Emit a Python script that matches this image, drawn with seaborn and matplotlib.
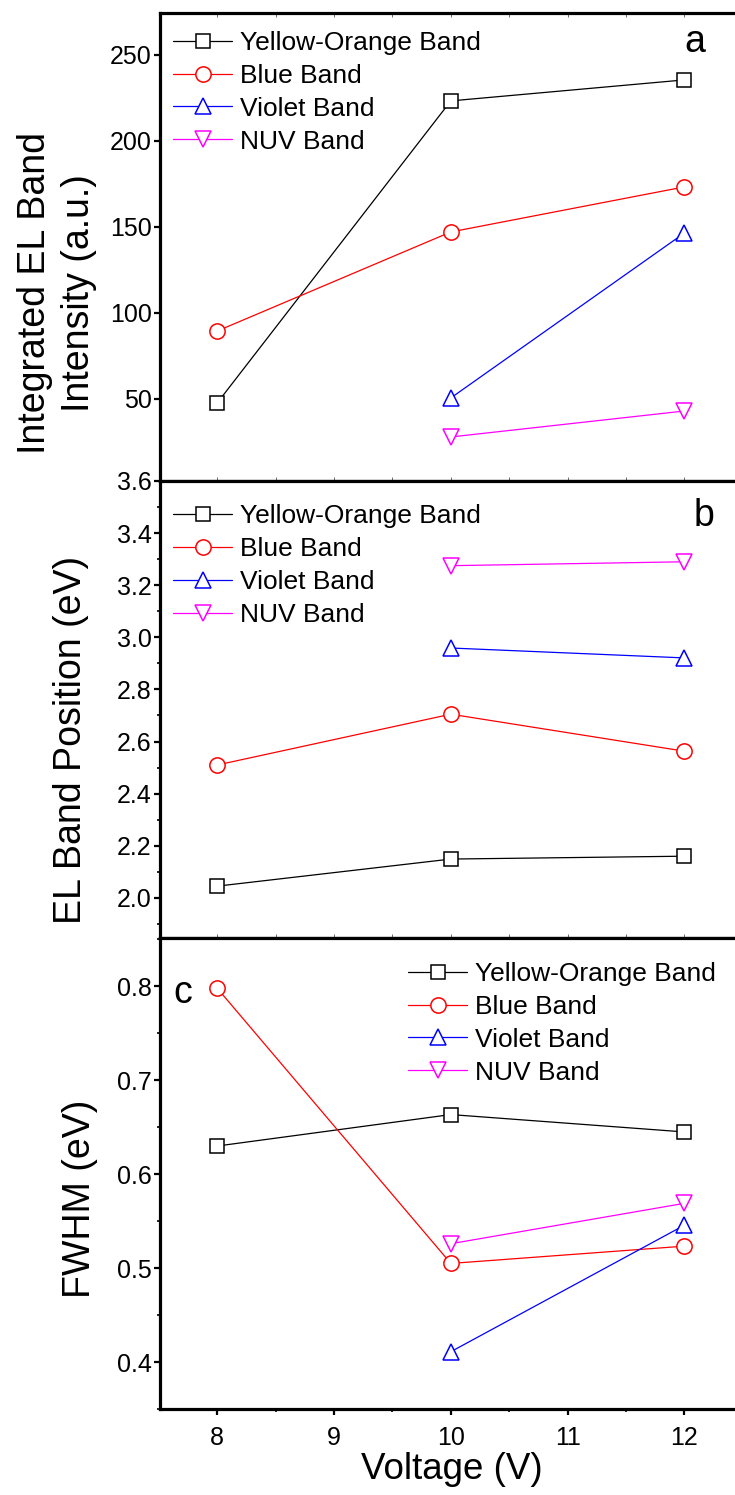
import numpy as np
import pandas as pd
import matplotlib
matplotlib.use("Agg")
import matplotlib.pyplot as plt
import seaborn as sns
from matplotlib.ticker import MultipleLocator, FormatStrFormatter

sns.set_theme(style="ticks")
plt.rcParams['font.family'] = ['Liberation Sans', 'DejaVu Sans']

# ---- data ----
voltage_all = [8, 10, 12]
voltage_hi = [10, 12]
series_names = ["Yellow-Orange Band", "Blue Band", "Violet Band", "NUV Band"]

# (a) integrated intensity (a.u.)
int_yellow = [47.7, 223.3, 235.5]
int_blue = [89.5, 147.1, 173.3]
int_violet = [50.6, 146.5]
int_nuv = [27.9, 43.0]

# (b) band position (eV)
pos_yellow = [2.045, 2.149, 2.160]
pos_blue = [2.510, 2.705, 2.563]
pos_violet = [2.959, 2.921]
pos_nuv = [3.275, 3.290]

# (c) FWHM (eV)
fw_yellow = [0.630, 0.6635, 0.645]
fw_blue = [0.798, 0.505, 0.5234]
fw_violet = [0.411, 0.5457]
fw_nuv = [0.526, 0.569]

colors = ["black", "#FF0000", "#0000FF", "#FF00FF"]
markers = ["s", "o", "^", "v"]
msizes = [9.5, 11, 11.5, 11.5]

W, H = 735, 1495
fig = plt.figure(figsize=(W / 100, H / 100), dpi=100)

def px_axes(top, bottom, left=160, right=744):
    return fig.add_axes([left / W, 1 - bottom / H, (right - left) / W, (bottom - top) / H])

ax_a = px_axes(13, 481)
ax_b = px_axes(481, 938)
ax_c = px_axes(938, 1409)

panels = [
    (ax_a, [int_yellow, int_blue, int_violet, int_nuv]),
    (ax_b, [pos_yellow, pos_blue, pos_violet, pos_nuv]),
    (ax_c, [fw_yellow, fw_blue, fw_violet, fw_nuv]),
]

for ax, ys in panels:
    for name, y, c, m, ms in zip(series_names, ys, colors, markers, msizes):
        x = voltage_all if len(y) == 3 else voltage_hi
        sns.lineplot(x=x, y=y, ax=ax, color=c, marker=m, markersize=ms,
                     markerfacecolor="white", markeredgecolor=c,
                     markeredgewidth=1.1, linewidth=0.9, label=name,
                     errorbar=None, sort=False)
    ax.set_xlim(7.51, 12.51)
    ax.set_facecolor("white")
    for s in ["left", "bottom", "top"]:
        ax.spines[s].set_linewidth(2.3)
        ax.spines[s].set_color("black")
    ax.spines["right"].set_visible(False)
    ax.xaxis.set_major_locator(MultipleLocator(1))
    ax.xaxis.set_minor_locator(MultipleLocator(0.5))
    ax.tick_params(axis="y", which="major", direction="out", length=4, width=1.6,
                   labelsize=18, color="black", labelcolor="black", pad=2)
    ax.tick_params(axis="y", which="minor", direction="out", length=2.5, width=1.2,
                   color="black")
    ax.set_xlabel("")

ax_a.set_ylim(2.3, 274.4)
ax_a.yaxis.set_major_locator(MultipleLocator(50))
ax_a.yaxis.set_minor_locator(matplotlib.ticker.NullLocator())
ax_b.set_ylim(1.846, 3.6)
ax_b.set_yticks([2.0, 2.2, 2.4, 2.6, 2.8, 3.0, 3.2, 3.4, 3.6])
ax_b.yaxis.set_minor_locator(MultipleLocator(0.1))
ax_b.yaxis.set_major_formatter(FormatStrFormatter("%.1f"))
ax_c.set_ylim(0.35, 0.8515)
ax_c.yaxis.set_major_locator(MultipleLocator(0.1))
ax_c.yaxis.set_minor_locator(MultipleLocator(0.05))
ax_c.yaxis.set_major_formatter(FormatStrFormatter("%.1f"))

# x ticks
for ax in (ax_a, ax_b):
    ax.tick_params(axis="x", which="both", bottom=True, top=False, labelbottom=False,
                   direction="in", length=3, width=0.6, color="#555555")
ax_a.tick_params(axis="x", which="both", top=True, direction="in", length=3,
                 width=0.6, color="#555555")
ax_c.tick_params(axis="x", which="major", direction="out", length=4, width=1.6,
                 labelsize=18, color="black", labelcolor="black", pad=8.5)
ax_c.tick_params(axis="x", which="minor", direction="out", length=2.5, width=1.2,
                 color="black")
ax_c.set_xlabel("Voltage (V)", fontsize=26.5, color="black", labelpad=1)

# y labels
ax_a.set_ylabel("Integrated EL Band\nIntensity (a.u.)", fontsize=27, color="black",
                linespacing=1.3, va="center", ha="center")
ax_a.yaxis.set_label_coords(-0.176, 0.402)
ax_b.set_ylabel("EL Band Position (eV)", fontsize=27, color="black",
                va="center", ha="center")
ax_b.yaxis.set_label_coords(-0.153, 0.433)
ax_c.set_ylabel("FWHM (eV)", fontsize=27, color="black", va="center", ha="center")
ax_c.yaxis.set_label_coords(-0.137, 0.446)

# legends
leg_kw = dict(frameon=False, fontsize=19, handlelength=2.25, handletextpad=0.3,
              labelspacing=0.34, borderaxespad=0, borderpad=0, labelcolor="black")
ax_a.legend(loc="upper left", bbox_to_anchor=(0.022, 0.962), **leg_kw)
ax_b.legend(loc="upper left", bbox_to_anchor=(0.022, 0.949), **leg_kw)
ax_c.legend(loc="upper left", bbox_to_anchor=(0.4247, 0.9495), **leg_kw)

# panel letters
ax_a.text(0.916, 0.938, "a", transform=ax_a.transAxes, fontsize=27, ha="center",
          va="center", color="black")
ax_b.text(0.932, 0.924, "b", transform=ax_b.transAxes, fontsize=27, ha="center",
          va="center", color="black")
ax_c.text(0.039, 0.884, "c", transform=ax_c.transAxes, fontsize=27, ha="center",
          va="center", color="black")

fig.savefig("out.png", dpi=100, facecolor="white")
